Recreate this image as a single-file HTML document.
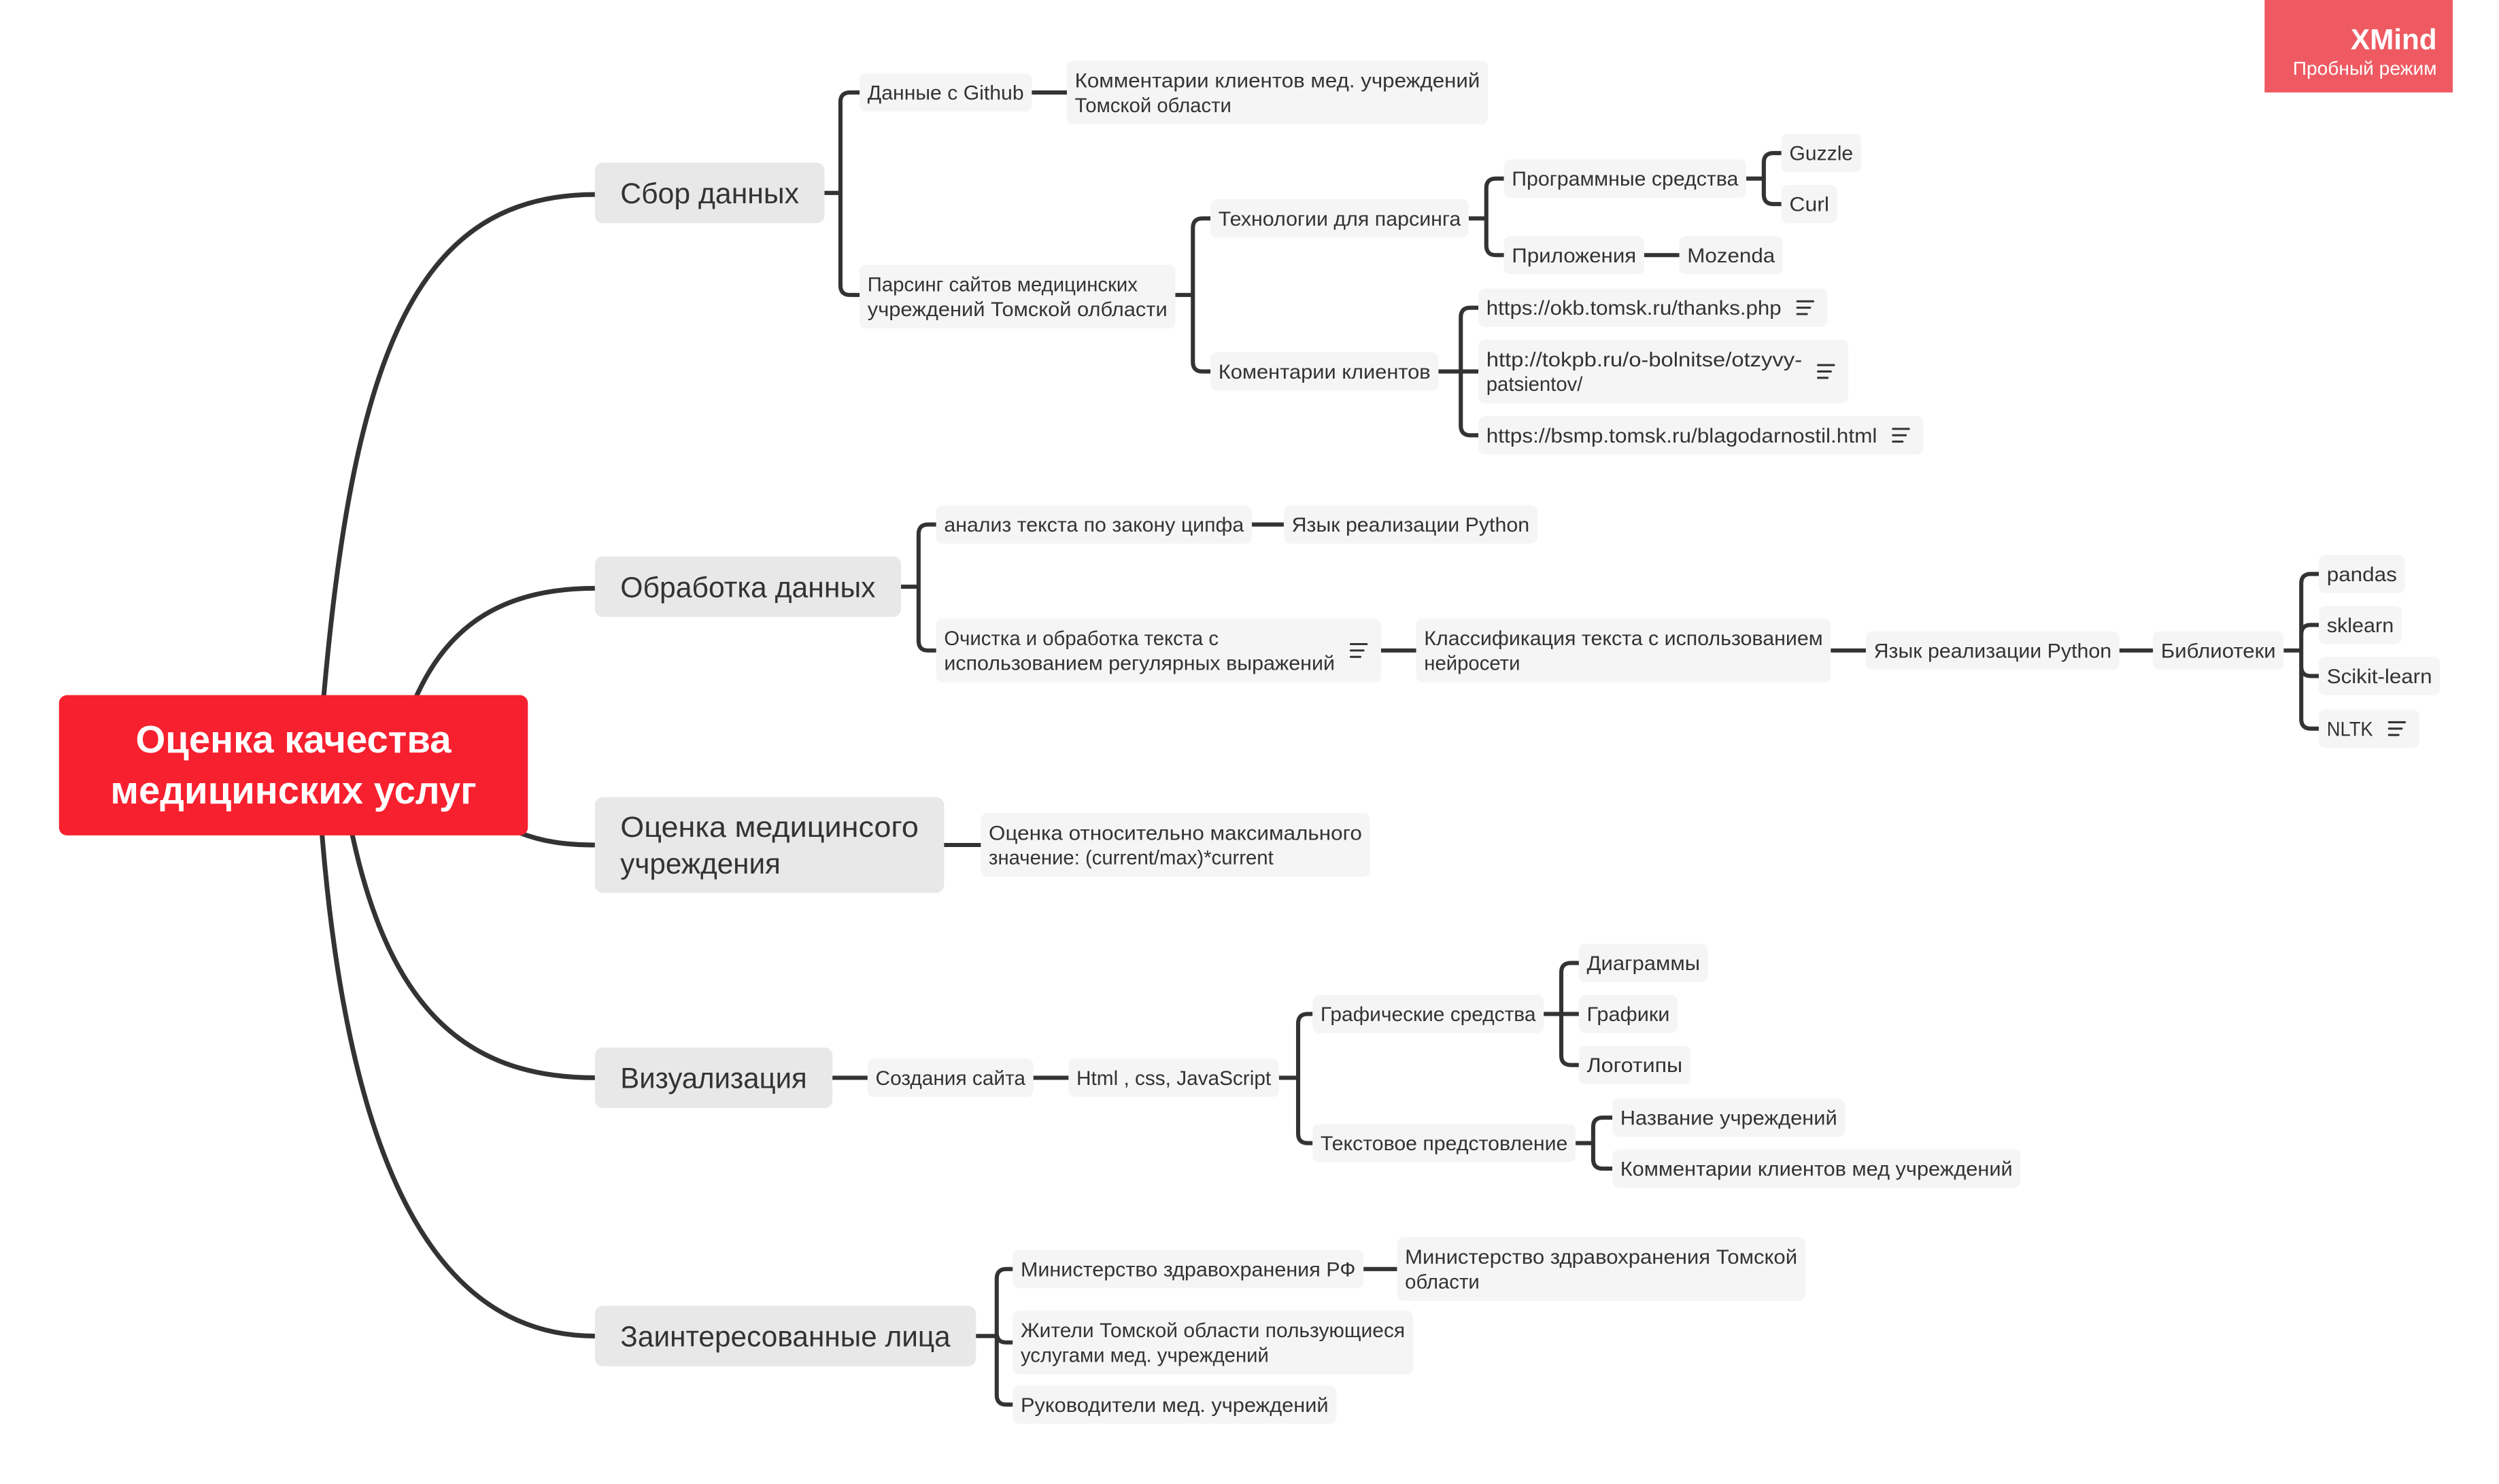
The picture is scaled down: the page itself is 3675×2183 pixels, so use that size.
<!DOCTYPE html>
<html><head><meta charset="utf-8">
<style>
html,body{margin:0;padding:0;background:#fff;}
svg{display:block;}
text{font-family:"Liberation Sans","DejaVu Sans",sans-serif;fill:#333;}
</style></head>
<body>
<svg id="s" xmlns="http://www.w3.org/2000/svg" width="3675" height="2183" viewBox="0 0 1567 930.8" preserveAspectRatio="none">
<rect x="0" y="0" width="1567" height="930.8" fill="#fff"/>
<g id="lines" fill="none" stroke="#333" stroke-linecap="round"></g>
<g id="nodes"></g>
<rect x="1420" y="0" width="118" height="58" fill="#ef5a62"/>
<text x="1528" y="31" text-anchor="end" style="fill:#fff;font-size:18px;font-weight:bold">XMind</text>
<text x="1528" y="47" text-anchor="end" style="fill:#fff;font-size:12px">Пробный режим</text>
</svg>
<script>
var NS="http://www.w3.org/2000/svg";
var L=document.getElementById('lines'),N=document.getElementById('nodes');
function el(t,a,p){var e=document.createElementNS(NS,t);for(var k in a)e.setAttribute(k,a[k]);(p||N).appendChild(e);return e;}
function path(d,w,p){el('path',{d:d,'stroke-width':w,fill:'none',stroke:'#333','stroke-linecap':'round'},p||L);}
path('M203 437 C222 220 262 122 373 122',3);
path('M261 437 C282 390 318 369 373 369',3);
path('M325 522 C340 528 355 530 373 530',3);
path('M221 524 C244 630 290 676 373 676',3);
path('M202 524 C218 720 268 838 373 838',3);
el('rect',{x:37,y:436,width:294,height:88,rx:5,fill:'#f7202f'});
el('text',{x:184,y:472,'text-anchor':'middle',style:'fill:#fff;font-size:24px;font-weight:bold'}).textContent='Оценка качества';
el('text',{x:184,y:504,'text-anchor':'middle',style:'fill:#fff;font-size:24px;font-weight:bold'}).textContent='медицинских услуг';
function node(x,y,w,h,lines,li,icon,main){
  el('rect',{x:x,y:y,width:w,height:h,rx:main?5:4,fill:main?'#e8e8e8':'#f5f5f5'});
  var fs=main?18:12.5, pad=main?16:5, lh=main?23:15.5;
  var n=lines.length, cy=y+h/2, y0=cy-(n-1)*lh/2+fs*0.36;
  var avail=w-2*pad-(icon?24:0);
  for(var i=0;i<n;i++){
    var a={x:x+pad,y:y0+i*lh,style:'font-size:'+fs+'px'};
    if(i===li){a.textLength=avail;a.lengthAdjust='spacingAndGlyphs';}
    el('text',a).textContent=lines[i];
  }
  if(icon){var ix=x+w-19,g=cy;
    path('M'+ix+' '+(g-4)+' h10 M'+ix+' '+g+' h8 M'+ix+' '+(g+4)+' h6',1.3,N);}
}
node(373,102,144,38,['Сбор данных'],0,0,1);
node(373,349,192,38,['Обработка данных'],0,0,1);
node(373,500,219,60,['Оценка медицинсого','учреждения'],0,0,1);
node(373,657,149,38,['Визуализация'],0,0,1);
node(373,819,239,38,['Заинтересованные лица'],0,0,1);

node(539,46,108,24,['Данные с Github'],0);
node(669,38,264,40,['Комментарии клиентов мед. учреждений','Томской области'],0);
node(539,166,198,40,['Парсинг сайтов медицинских','учреждений Томской олбласти'],1);
node(759,125,162,24,['Технологии для парсинга'],0);
node(759,221,143,24,['Коментарии клиентов'],0);
node(943,100,152,24,['Программные средства'],0);
node(943,148,88,24,['Приложения'],0);
node(1117,84,50,24,['Guzzle'],0);
node(1117,116,35,24,['Curl'],0);
node(1053,148,65,24,['Mozenda'],0);
node(927,181,219,24,['https://okb.tomsk.ru/thanks.php'],0,1);
node(927,213,232,40,['http://tokpb.ru/o-bolnitse/otzyvy-','patsientov/'],0,1);
node(927,261,279,24,['https://bsmp.tomsk.ru/blagodarnostil.html'],0,1);

node(587,317,198,24,['анализ текста по закону ципфа'],0);
node(805,317,159,24,['Язык реализации Python'],0);
node(587,388,279,40,['Очистка и обработка текста с','использованием регулярных выражений'],1,1);
node(888,388,260,40,['Классификация текста с использованием','нейросети'],0);
node(1170,396,159,24,['Язык реализации Python'],0);
node(1350,396,82,24,['Библиотеки'],0);
node(1454,348,54,24,['pandas'],0);
node(1454,380,52,24,['sklearn'],0);
node(1454,412,76,24,['Scikit-learn'],0);
node(1454,445,63,24,['NLTK'],0,1);

node(615,510,244,40,['Оценка относительно максимального','значение: (current/max)*current'],0);

node(544,664,104,24,['Создания сайта'],0);
node(670,664,132,24,['Html , css, JavaScript'],0);
node(823,624,145,24,['Графические средства'],0);
node(823,705,165,24,['Текстовое предстовление'],0);
node(990,592,81,24,['Диаграммы'],0);
node(990,624,62,24,['Графики'],0);
node(990,656,70,24,['Логотипы'],0);
node(1011,689,146,24,['Название учреждений'],0);
node(1011,721,256,24,['Комментарии клиентов мед учреждений'],0);

node(635,784,220,24,['Министерство здравохранения РФ'],0);
node(876,776,256,40,['Министерство здравохранения Томской','области'],0);
node(635,822,251,40,['Жители Томской области пользующиеся','услугами мед. учреждений'],0);
node(635,869,203,24,['Руководители мед. учреждений'],0);

function br(px,py,bx,kids){
  var d='M'+px+' '+py+' H'+bx, r=6;
  kids.forEach(function(k){var cy=k[0],cx=k[1];
    if(Math.abs(cy-py)<1){d+=' M'+bx+' '+py+' H'+cx;return;}
    var s=cy<py?-1:1;
    d+=' M'+bx+' '+py+' V'+(cy-s*r)+' Q'+bx+' '+cy+' '+(bx+r)+' '+cy+' H'+cx;});
  path(d,2.6);
}
br(517,121,527,[[58,539],[185,539]]);
br(647,58,669,[[58,669]]);
br(737,185,748,[[137,759],[233,759]]);
br(921,137,932,[[112,943],[160,943]]);
br(1095,112,1106,[[96,1117],[128,1117]]);
br(1031,160,1053,[[160,1053]]);
br(902,233,916,[[193,927],[233,927],[273,927]]);
br(565,368,576,[[329,587],[408,587]]);
br(785,329,805,[[329,805]]);
br(866,408,888,[[408,888]]);
br(1148,408,1170,[[408,1170]]);
br(1329,408,1350,[[408,1350]]);
br(1432,408,1443,[[360,1454],[392,1454],[424,1454],[457,1454]]);
br(592,530,615,[[530,615]]);
br(522,676,544,[[676,544]]);
br(648,676,670,[[676,670]]);
br(802,676,814,[[636,823],[717,823]]);
br(968,636,979,[[604,990],[636,990],[668,990]]);
br(988,717,999,[[701,1011],[733,1011]]);
br(612,838,625,[[796,635],[842,635],[881,635]]);
br(855,796,876,[[796,876]]);
</script>
</body></html>
